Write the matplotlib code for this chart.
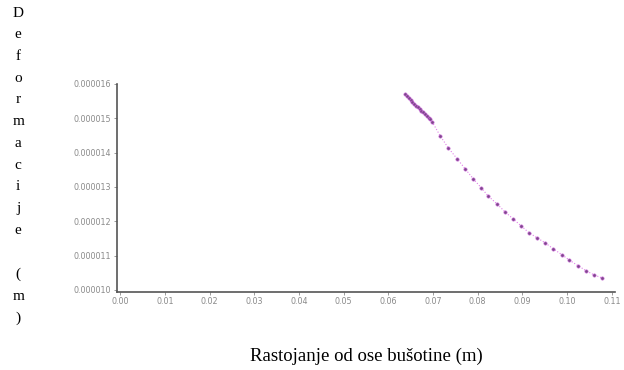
import matplotlib
matplotlib.use("Agg")
import matplotlib.pyplot as plt
from matplotlib.ticker import FormatStrFormatter

# distance from borehole axis (m)
x_vals = [0.0638, 0.0642, 0.0646, 0.0650, 0.0654, 0.0658, 0.0662, 0.0666,
          0.0670, 0.0674, 0.0678, 0.0682, 0.0686, 0.0690, 0.0694, 0.0698,
          0.0716, 0.0734, 0.0754, 0.0772, 0.0790, 0.0808, 0.0823, 0.0843,
          0.0861, 0.0879, 0.0897, 0.0915, 0.0933, 0.0951, 0.0969, 0.0989,
          0.1004, 0.1025, 0.1043, 0.1060, 0.1078]
# deformation (m)
y_vals = [1.571e-5, 1.565e-5, 1.559e-5, 1.553e-5, 1.548e-5, 1.542e-5, 1.537e-5, 1.532e-5,
          1.527e-5, 1.522e-5, 1.517e-5, 1.512e-5, 1.507e-5, 1.502e-5, 1.497e-5, 1.490e-5,
          1.4489e-5, 1.4139e-5, 1.3819e-5, 1.3527e-5, 1.3236e-5, 1.2973e-5, 1.2740e-5, 1.2507e-5,
          1.2274e-5, 1.2070e-5, 1.1866e-5, 1.1662e-5, 1.1516e-5, 1.1370e-5, 1.1195e-5, 1.1020e-5,
          1.0875e-5, 1.0700e-5, 1.0554e-5, 1.0437e-5, 1.0350e-5]

x_ticks = [0.00, 0.01, 0.02, 0.03, 0.04, 0.05, 0.06, 0.07, 0.08, 0.09, 0.10, 0.11]
y_ticks = [0.000010, 0.000011, 0.000012, 0.000013, 0.000014, 0.000015, 0.000016]

fig = plt.figure(figsize=(6.24, 3.70), dpi=100)
ax = fig.add_axes([0.1875, 0.211, 0.798, 0.562])

ax.plot(x_vals, y_vals, color="#e080e8", linewidth=0.8, linestyle=":",
        marker="o", markersize=2.3, markerfacecolor="#7a4a86",
        markeredgecolor="#c060d0", markeredgewidth=0.5)

ax.set_xlim(-0.0007, 0.1107)
ax.set_ylim(0.00000994, 0.0000160)
ax.set_xticks(x_ticks)
ax.set_yticks(y_ticks)
ax.xaxis.set_major_formatter(FormatStrFormatter("%.2f"))
ax.yaxis.set_major_formatter(FormatStrFormatter("%.6f"))
ax.tick_params(labelsize=5.8, colors="#8a8a8a", length=2, width=0.6, pad=2)

for side in ("top", "right"):
    ax.spines[side].set_visible(False)
for side in ("left", "bottom"):
    ax.spines[side].set_color("#555555")
    ax.spines[side].set_linewidth(1.2)

ax.set_xlabel("Rastojanje od ose bušotine (m)", fontsize=13.5,
              family="Liberation Serif", labelpad=30)

fig.text(0.029, 0.982, "\n".join("Deformacije (m)"), fontsize=11,
         family="Liberation Serif", va="top", ha="center", linespacing=1.87)

fig.savefig("out.png", dpi=100, facecolor="white")
